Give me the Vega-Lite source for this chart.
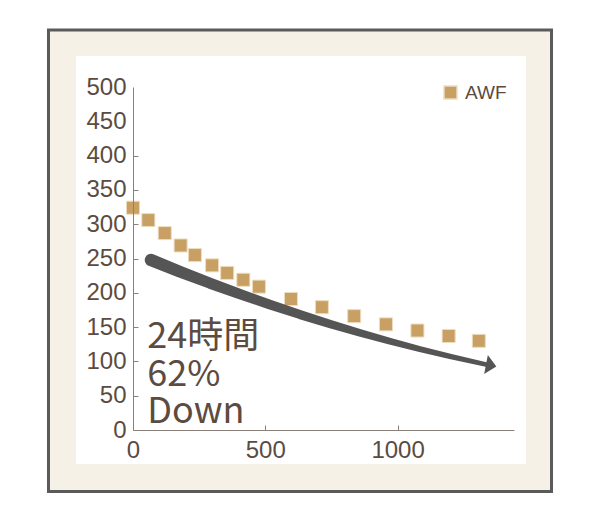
{
  "$schema": "https://vega.github.io/schema/vega-lite/v6.json",
  "width": 381,
  "height": 343,
  "autosize": {"type": "none"},
  "padding": {"left": 133, "top": 87, "right": 86, "bottom": 84},
  "background": "white",
  "config": {
    "view": {"stroke": null},
    "font": "Liberation Sans",
    "axis": {
      "grid": false,
      "title": null,
      "domainColor": "#8c817a",
      "domainWidth": 1,
      "tickColor": "#8c817a",
      "tickSize": -5,
      "labelFont": "Liberation Sans",
      "labelFontSize": 24,
      "labelColor": "#5C4B41",
      "labelFlush": false,
      "labelOverlap": false,
      "format": "d"
    },
    "axisX": {"labelPadding": 13},
    "axisY": {"labelPadding": 12}
  },
  "datasets": {
    "awf": [
      {"time": 0, "value": 324, "series": "AWF"},
      {"time": 58, "value": 306, "series": "AWF"},
      {"time": 120, "value": 287, "series": "AWF"},
      {"time": 180, "value": 269, "series": "AWF"},
      {"time": 234, "value": 255, "series": "AWF"},
      {"time": 299, "value": 240, "series": "AWF"},
      {"time": 356, "value": 229, "series": "AWF"},
      {"time": 417, "value": 219, "series": "AWF"},
      {"time": 476, "value": 209, "series": "AWF"},
      {"time": 597, "value": 191, "series": "AWF"},
      {"time": 714, "value": 179, "series": "AWF"},
      {"time": 836, "value": 166, "series": "AWF"},
      {"time": 956, "value": 154, "series": "AWF"},
      {"time": 1075, "value": 145, "series": "AWF"},
      {"time": 1193, "value": 137, "series": "AWF"},
      {"time": 1307, "value": 130, "series": "AWF"}
    ],
    "arrow": [
      {"x": 68, "y": 247.8},
      {"x": 177.6, "y": 230.8},
      {"x": 291, "y": 214},
      {"x": 404.4, "y": 198},
      {"x": 517.8, "y": 182.7},
      {"x": 631.2, "y": 168.2},
      {"x": 744.6, "y": 154.5},
      {"x": 858, "y": 141.5},
      {"x": 971.4, "y": 129.3},
      {"x": 1084.7, "y": 117.9},
      {"x": 1198.1, "y": 107.2},
      {"x": 1334.2, "y": 95.45}
    ]
  },
  "layer": [
    {
      "data": {"values": [{}]},
      "mark": {"type": "rect", "fill": "#F5F1E6", "stroke": "#5a5a5a", "strokeWidth": 3, "clip": false},
      "encoding": {
        "x": {"datum": -319.4, "type": "quantitative", "scale": {"domain": [0, 1440], "nice": false, "zero": false}, "title": null,
              "axis": {"zindex": 2, "values": [0, 500, 1000], "tickCount": 20, "labelOverlap": false}},
        "x2": {"datum": 1581.8},
        "y": {"datum": 583.1, "type": "quantitative", "scale": {"domain": [0, 500], "nice": false, "zero": false}, "title": null,
              "axis": {"zindex": 2, "labelOverlap": false, "tickCount": 20, "values": [0, 50, 100, 150, 200, 250, 300, 350, 400, 450, 500],
                       "tickColor": {"condition": {"test": "datum.value > 400", "value": "transparent"}, "value": "#8c817a"}}},
        "y2": {"datum": -89.65}
      }
    },
    {
      "data": {"values": [{}]},
      "mark": {"type": "rect", "fill": "#FFFFFF", "clip": false},
      "encoding": {
        "x": {"datum": -215.4, "type": "quantitative", "title": null},
        "x2": {"datum": 1485.4},
        "y": {"datum": 545.2, "type": "quantitative", "title": null},
        "y2": {"datum": -49.56}
      }
    },
    {
      "data": {"name": "awf"},
      "mark": {"type": "square", "size": 170, "filled": true, "opacity": 1, "stroke": "#EDDDC0", "strokeWidth": 1},
      "encoding": {
        "x": {"field": "time", "type": "quantitative", "title": null},
        "y": {"field": "value", "type": "quantitative", "title": null},
        "color": {
          "field": "series", "type": "nominal",
          "scale": {"domain": ["AWF"], "range": ["#C9A063"]},
          "legend": {"title": null, "orient": "none", "legendX": 308, "legendY": -4, "padding": 0, "symbolSize": 170, "symbolType": "square", "labelFontSize": 19, "labelColor": "#5C4B41", "labelFont": "Liberation Sans", "labelOffset": 5, "zindex": 2}
        }
      }
    },
    {
      "data": {"name": "arrow"},
      "mark": {"type": "trail", "color": "#555555", "opacity": 1},
      "encoding": {
        "x": {"field": "x", "type": "quantitative", "title": null},
        "y": {"field": "y", "type": "quantitative", "title": null},
        "order": {"field": "x"},
        "size": {"field": "x", "type": "quantitative", "scale": {"domain": [68, 1334.2], "range": [12.5, 4.5], "zero": false}, "legend": null}
      }
    },
    {
      "data": {"values": [{}]},
      "mark": {"type": "point", "shape": "M1.05,0L0,-0.97L0,0.97Z", "size": 400, "filled": true, "color": "#555555", "opacity": 1, "strokeWidth": 0, "angle": 11},
      "encoding": {
        "x": {"datum": 1334.2, "type": "quantitative", "title": null},
        "y": {"datum": 95.45, "type": "quantitative", "title": null}
      }
    },
    {
      "data": {"values": [{}]},
      "mark": {"type": "text", "align": "left", "baseline": "alphabetic", "font": "Noto Sans CJK JP", "fontSize": 36, "lineHeight": 37.5, "color": "#5C4B41", "text": ["24時間", "62%", "Down"]},
      "encoding": {
        "x": {"datum": 54, "type": "quantitative", "title": null},
        "y": {"datum": 119.5, "type": "quantitative", "title": null}
      }
    }
  ]
}
